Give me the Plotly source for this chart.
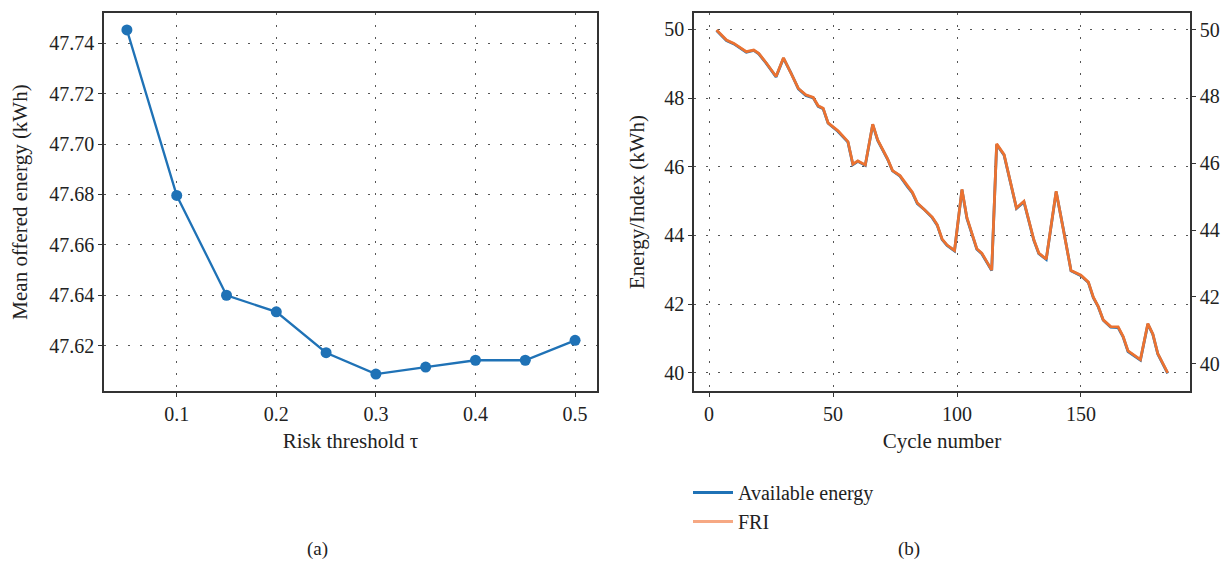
import plotly.graph_objects as go

# ---- Panel (a) data ----
tau = [0.05, 0.10, 0.15, 0.20, 0.25, 0.30, 0.35, 0.40, 0.45, 0.50]
mean_energy = [47.7453, 47.6796, 47.6400, 47.6334, 47.6172, 47.6087, 47.6115, 47.6142, 47.6142, 47.6221]

# ---- Panel (b) data ----
cycles = [3, 7, 10, 15, 18, 20, 23, 27, 30, 33, 36, 39, 42, 44, 46, 48, 52, 56, 58, 60,
          63, 66, 68, 72, 74, 77, 80, 82, 84, 87, 90, 92, 94, 96, 99, 102, 104, 108, 110, 114,
          116, 119, 124, 127, 131, 133, 136, 140, 143, 146, 150, 153, 155, 157, 159, 162, 165, 167, 169, 174,
          177, 179, 181, 185]
available_energy = [49.97, 49.68, 49.58, 49.34, 49.39, 49.29, 49.02, 48.62, 49.16, 48.74, 48.27, 48.08, 48.01, 47.76, 47.69, 47.27, 47.03, 46.72, 46.06, 46.16,
                    46.04, 47.23, 46.77, 46.22, 45.88, 45.73, 45.42, 45.24, 44.93, 44.74, 44.52, 44.30, 43.88, 43.71, 43.55, 45.33, 44.50, 43.60, 43.47, 42.98,
                    46.65, 46.34, 44.79, 44.98, 43.86, 43.47, 43.30, 45.27, 44.15, 42.97, 42.83, 42.63, 42.19, 41.92, 41.53, 41.33, 41.32, 41.05, 40.62, 40.37,
                    41.42, 41.12, 40.55, 39.98]
fri = [49.99, 49.69, 49.59, 49.34, 49.39, 49.29, 49.01, 48.60, 49.16, 48.72, 48.24, 48.05, 47.97, 47.72, 47.65, 47.21, 46.97, 46.65, 45.97, 46.07,
       45.95, 47.17, 46.70, 46.13, 45.78, 45.63, 45.31, 45.13, 44.81, 44.61, 44.39, 44.16, 43.73, 43.55, 43.39, 45.22, 44.37, 43.44, 43.31, 42.80,
       46.58, 46.26, 44.66, 44.86, 43.71, 43.31, 43.13, 45.16, 44.01, 42.79, 42.65, 42.44, 41.99, 41.71, 41.31, 41.11, 41.10, 40.82, 40.38, 40.12,
       41.20, 40.89, 40.30, 39.72]

a_xticks = [0.1, 0.2, 0.3, 0.4, 0.5]
a_yticks = [47.62, 47.64, 47.66, 47.68, 47.70, 47.72, 47.74]
b_xticks = [0, 50, 100, 150]
b_yticks = [40, 42, 44, 46, 48, 50]

BLUE = "#1f72b6"
ORANGE = "#ec7230"
ORANGE_LEG = "#f6a883"
FONT = "Liberation Serif"
TXT = "#222222"
AX = "#333333"
GRID = "#555555"
TICK_SIZE = 20
TITLE_SIZE = 21

fig = go.Figure()

fig.add_trace(go.Scatter(x=tau, y=mean_energy, mode="lines+markers",
                         line=dict(color=BLUE, width=2.3),
                         marker=dict(color=BLUE, size=11),
                         xaxis="x", yaxis="y", showlegend=False))

fig.add_trace(go.Scatter(x=cycles, y=available_energy, mode="lines",
                         line=dict(color=BLUE, width=2.8),
                         name="Available energy", xaxis="x2", yaxis="y2", showlegend=True))
fig.add_trace(go.Scatter(x=cycles, y=fri, mode="lines",
                         line=dict(color=ORANGE, width=2.8),
                         name="FRI", xaxis="x2", yaxis="y3", showlegend=False))
# legend entry for FRI (lighter swatch as in reference)
fig.add_trace(go.Scatter(x=[None], y=[None], mode="lines",
                         line=dict(color=ORANGE_LEG, width=2.8),
                         name="FRI", xaxis="x2", yaxis="y3", showlegend=True))

axis_common = dict(showline=True, linecolor=AX, linewidth=1.5,
                   ticks="outside", ticklen=4, tickcolor=AX, tickwidth=1,
                   showgrid=True, gridcolor=GRID, gridwidth=1, griddash="2px,10px",
                   zeroline=False, tickfont=dict(family=FONT, size=TICK_SIZE, color=TXT))

fig.update_layout(
    width=1226, height=573,
    margin=dict(l=0, r=0, t=0, b=0),
    paper_bgcolor="white", plot_bgcolor="white",
    font=dict(family=FONT, size=TICK_SIZE, color=TXT),
    xaxis=dict(domain=[104/1226, 597/1226], anchor="y", range=[0.027, 0.522],
               tickvals=a_xticks, tickformat=".1f", mirror=True,
               title=dict(text="Risk threshold τ", font=dict(family=FONT, size=TITLE_SIZE, color=TXT), standoff=10),
               **axis_common),
    yaxis=dict(domain=[1 - 391/573, 1 - 13/573], anchor="x", range=[47.602, 47.752],
               tickvals=a_yticks, tickformat=".2f", mirror=True,
               title=dict(text="Mean offered energy (kWh)", font=dict(family=FONT, size=TITLE_SIZE, color=TXT), standoff=16),
               **axis_common),
    xaxis2=dict(domain=[694/1226, 1190/1226], anchor="y2", range=[-6.1, 194],
                tickvals=b_xticks, mirror=True,
                title=dict(text="Cycle number", font=dict(family=FONT, size=TITLE_SIZE, color=TXT), standoff=10),
                **axis_common),
    yaxis2=dict(domain=[1 - 391/573, 1 - 13/573], anchor="x2", range=[39.47, 50.48],
                tickvals=b_yticks,
                title=dict(text="Energy/Index (kWh)", font=dict(family=FONT, size=TITLE_SIZE, color=TXT), standoff=14),
                **axis_common),
    yaxis3=dict(overlaying="y2", anchor="x2", side="right", range=[39.18, 50.50],
                tickvals=b_yticks, showline=True, linecolor=AX, linewidth=1.5,
                ticks="outside", ticklen=4, tickcolor=AX, showgrid=False, zeroline=False,
                tickfont=dict(family=FONT, size=TICK_SIZE, color=TXT)),
    legend=dict(x=688/1226, y=1 - 473/573, xanchor="left", yanchor="top",
                bgcolor="rgba(0,0,0,0)", font=dict(family=FONT, size=20, color=TXT),
                tracegroupgap=0, itemwidth=40),
    annotations=[
        dict(text="(a)", x=305/1226, y=1 - 562/573, xref="paper", yref="paper",
             showarrow=False, font=dict(family=FONT, size=19, color=TXT)),
        dict(text="(b)", x=922/1226, y=1 - 562/573, xref="paper", yref="paper",
             showarrow=False, font=dict(family=FONT, size=19, color=TXT)),
    ],
)

fig.write_html("out.html")
